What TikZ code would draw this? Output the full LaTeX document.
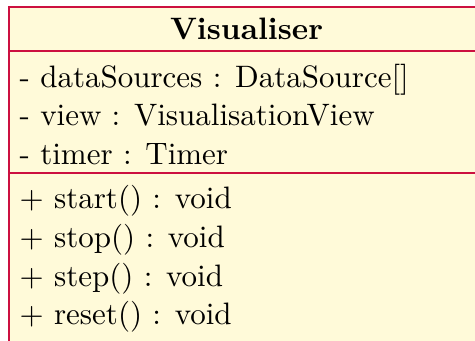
\documentclass[tikz,border=0pt]{standalone}
\usepackage{fontspec}
\definecolor{umlborder}{RGB}{204,16,64}
\definecolor{umlfill}{RGB}{255,250,217}
\tikzset{
  member/.style={anchor=base west, inner sep=0pt, scale=1.55, transform shape, font=\fontsize{10}{12}\selectfont},
  classtitle/.style={anchor=base, inner sep=0pt, scale=1.55, transform shape, font=\fontsize{10}{12}\selectfont\bfseries},
  umlline/.style={color=umlborder, line width=0.9pt}
}
\begin{document}
\begin{tikzpicture}[x=1pt,y=1pt]
\useasboundingbox (0,0) rectangle (237.5,-170.5);
\clip (0,0) rectangle (237.5,-170.5);
\fill[umlfill] (4.65,-3.5) rectangle (241.85,-200);
\coordinate (s1l) at (4.65,-25.5);
\coordinate (s1r) at (241.85,-25.5);
\coordinate (s2l) at (4.65,-86.65);
\coordinate (s2r) at (241.85,-86.65);
\draw[umlline] (s1l) -- (s1r);
\draw[umlline] (s2l) -- (s2r);
\draw[umlline] (4.65,-3.5) rectangle (241.85,-200);
\node[classtitle] (title) at (123.25,-20) {Visualiser};
\node[member] (a1) at (9.5,-43.65) {- dataSources : DataSource[]};
\node[member] (a2) at (9.5,-62.9) {- view : VisualisationView};
\node[member] (a3) at (9.5,-82.15) {- timer : Timer};
\node[member] (m1) at (9.5,-104.5) {+ start() : void};
\node[member] (m2) at (9.5,-123.75) {+ stop() : void};
\node[member] (m3) at (9.5,-143) {+ step() : void};
\node[member] (m4) at (9.5,-162.25) {+ reset() : void};
\end{tikzpicture}
\end{document}
